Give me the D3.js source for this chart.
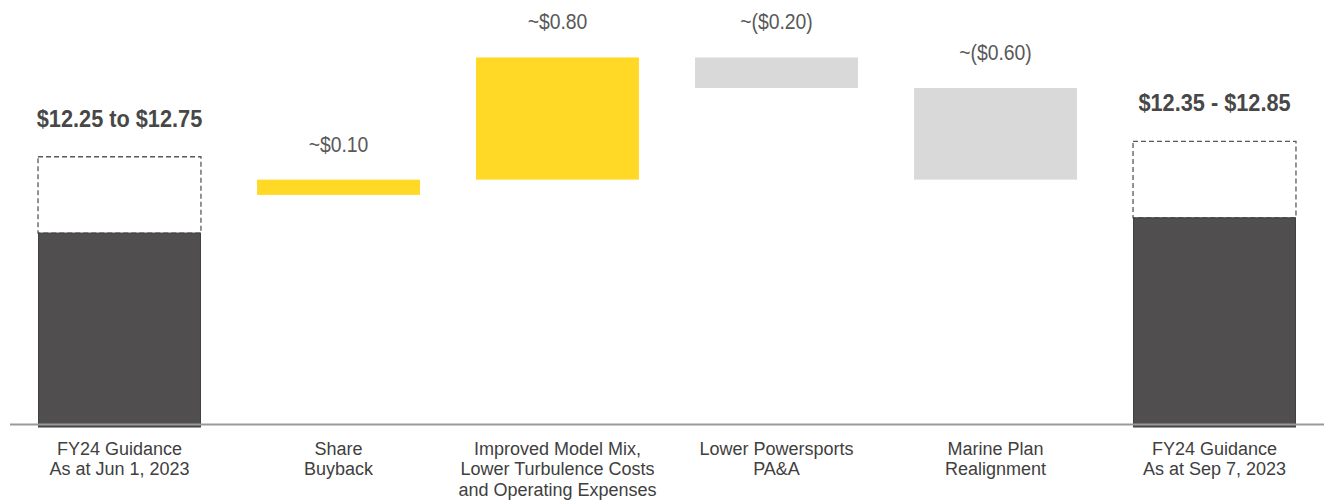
<!DOCTYPE html>
<html>
<head>
<meta charset="utf-8">
<script src="https://cdn.jsdelivr.net/npm/d3@7"></script>
<style>
  html, body { margin: 0; padding: 0; background: #ffffff; }
  svg { display: block; }
</style>
</head>
<body>
<svg id="chart" width="1330" height="502"></svg>
<script>
// Category labels (one entry per line)
const categories = [
  ["FY24 Guidance", "As at Jun 1, 2023"],
  ["Share", "Buyback"],
  ["Improved Model Mix,", "Lower Turbulence Costs", "and Operating Expenses"],
  ["Lower Powersports", "PA&A"],
  ["Marine Plan", "Realignment"],
  ["FY24 Guidance", "As at Sep 7, 2023"]
];

// EPS guidance ranges (start and end of the bridge)
const guidanceLow = [12.25, 12.35];
const guidanceHigh = [12.75, 12.85];
const guidanceLabels = ["$12.25 to $12.75", "$12.35 - $12.85"];

// Bridge steps
const stepValues = [0.10, 0.80, -0.20, -0.60];
const stepLabels = ["~$0.10", "~$0.80", "~($0.20)", "~($0.60)"];

const svg = d3.select("#chart");

const x = d3.scaleBand()
  .domain(d3.range(categories.length))
  .range([10, 1324])
  .paddingInner(0.256)
  .paddingOuter(0.128);

const y = d3.scaleLinear()
  .domain([11, 13.75])
  .range([424, 4]);

const font = "'Liberation Sans', Arial, sans-serif";

// Condensed text: regular face squeezed horizontally around its anchor
function condensedText(cx, cy, str, size, weight, fill, sx) {
  svg.append("g")
    .attr("transform", `translate(${cx},${cy}) scale(${sx},1)`)
    .append("text")
    .attr("text-anchor", "middle")
    .attr("font-family", font)
    .attr("font-weight", weight)
    .attr("font-size", size)
    .attr("fill", fill)
    .text(str);
}

// Guidance bars: solid low end plus dashed range box
const guidanceIdx = [0, categories.length - 1];
guidanceIdx.forEach((ci, i) => {
  svg.append("rect")
    .attr("x", x(ci))
    .attr("y", y(guidanceHigh[i]))
    .attr("width", x.bandwidth())
    .attr("height", y(guidanceLow[i]) - y(guidanceHigh[i]))
    .attr("fill", "#ffffff")
    .attr("stroke", "#595959")
    .attr("stroke-width", 1.3)
    .attr("stroke-dasharray", "5,3");
  svg.append("rect")
    .attr("x", x(ci) + 0.5)
    .attr("y", y(guidanceLow[i]))
    .attr("width", x.bandwidth() - 1)
    .attr("height", y(11) - y(guidanceLow[i]) + 3)
    .attr("fill", "#504e4f")
    .attr("stroke", "#3d3d3d")
    .attr("stroke-width", 1);
  condensedText(x(ci) + x.bandwidth() / 2, y(guidanceHigh[i]) - 30,
    guidanceLabels[i], 23, "bold", "#474747", 0.945);
});

// Floating bridge steps, starting from the midpoint of the opening range
let running = (guidanceLow[0] + guidanceHigh[0]) / 2;
stepValues.forEach((v, i) => {
  const ci = i + 1;
  const start = running;
  const end = running + v;
  running = end;
  const top = Math.max(start, end);
  const bottom = Math.min(start, end);
  svg.append("rect")
    .attr("x", x(ci))
    .attr("y", y(top))
    .attr("width", x.bandwidth())
    .attr("height", y(bottom) - y(top))
    .attr("fill", v >= 0 ? "#ffd926" : "#d9d9d9");
  condensedText(x(ci) + x.bandwidth() / 2, y(top) - 28,
    stepLabels[i], 22, "normal", "#595959", 0.88);
});

// Baseline
svg.append("line")
  .attr("x1", x.range()[0])
  .attr("x2", x.range()[1])
  .attr("y1", y(11) + 0.5)
  .attr("y2", y(11) + 0.5)
  .attr("stroke", "#999999")
  .attr("stroke-width", 2);

// Category labels
categories.forEach((lines, ci) => {
  const t = svg.append("text")
    .attr("text-anchor", "middle")
    .attr("font-family", font)
    .attr("font-size", 18)
    .attr("fill", "#404040");
  lines.forEach((ln, k) => {
    t.append("tspan")
      .attr("x", x(ci) + x.bandwidth() / 2)
      .attr("y", 454.5 + k * 20.6)
      .text(ln);
  });
});
</script>
</body>
</html>
